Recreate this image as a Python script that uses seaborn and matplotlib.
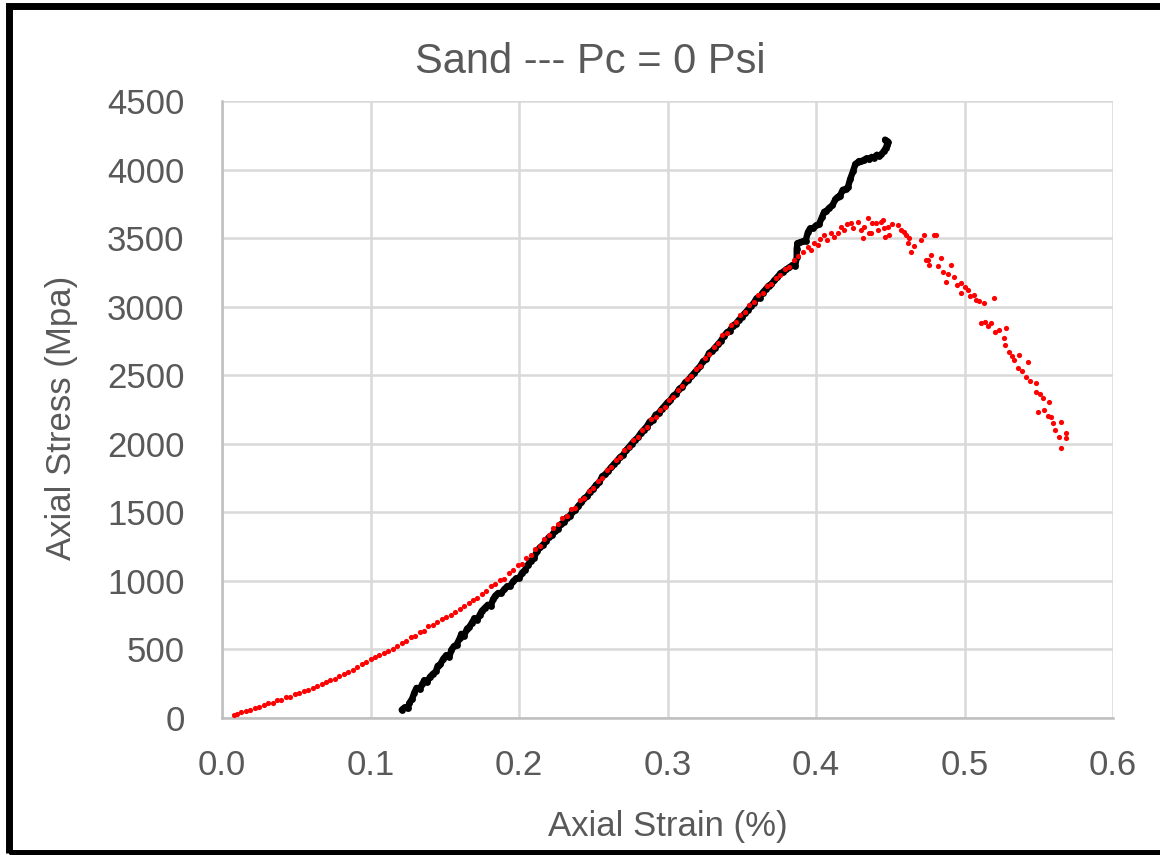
import matplotlib
matplotlib.use("Agg")
import matplotlib.pyplot as plt
import matplotlib.patches as mpatches
import seaborn as sns
import pandas as pd

# Specimen 1 (red dots): axial strain (%) and axial stress
red_strain = [
    0.008, 0.010, 0.013, 0.016, 0.019, 0.022, 0.025, 0.028, 0.031, 0.034,
    0.037, 0.040, 0.043, 0.046, 0.049, 0.052, 0.055, 0.058, 0.061, 0.064,
    0.067, 0.070, 0.073, 0.076, 0.079, 0.082, 0.085, 0.088, 0.091, 0.094,
    0.097, 0.100, 0.103, 0.106, 0.109, 0.112, 0.115, 0.118, 0.121, 0.124,
    0.127, 0.130, 0.133, 0.136, 0.139, 0.142, 0.145, 0.148, 0.151, 0.154,
    0.157, 0.160, 0.163, 0.166, 0.169, 0.172, 0.175, 0.178, 0.181, 0.184,
    0.187, 0.190, 0.193, 0.196, 0.199, 0.202, 0.205, 0.208, 0.211, 0.214,
    0.217, 0.220, 0.223, 0.226, 0.229, 0.232, 0.235, 0.238, 0.241, 0.244,
    0.247, 0.250, 0.253, 0.256, 0.259, 0.262, 0.265, 0.268, 0.271, 0.274,
    0.277, 0.280, 0.283, 0.286, 0.289, 0.292, 0.295, 0.298, 0.301, 0.304,
    0.307, 0.310, 0.313, 0.316, 0.319, 0.322, 0.325, 0.328, 0.331, 0.334,
    0.337, 0.340, 0.343, 0.346, 0.349, 0.352, 0.355, 0.358, 0.361, 0.364,
    0.367, 0.370, 0.373, 0.376, 0.379, 0.382, 0.385, 0.388,
    0.3910, 0.3943, 0.3965, 0.3987, 0.4010, 0.4030, 0.4055, 0.4077, 0.4100, 0.4120,
    0.4145, 0.4167, 0.4190, 0.4210, 0.4235, 0.4250, 0.4280, 0.4302, 0.4313, 0.4325,
    0.4347, 0.4358, 0.4370, 0.4380, 0.4403, 0.4420, 0.4437, 0.4448, 0.4460, 0.4462,
    0.4482, 0.4490, 0.4510, 0.4550, 0.4570, 0.4594, 0.4606, 0.4617, 0.4628, 0.4640,
    0.4660, 0.4707, 0.4729, 0.4740, 0.4752, 0.4763, 0.4774, 0.4796, 0.4808, 0.4820,
    0.4841, 0.4853, 0.4875, 0.4890, 0.4909, 0.4931, 0.4950, 0.4976, 0.4978, 0.5000,
    0.5021, 0.5040, 0.5066, 0.5078, 0.5100, 0.5133, 0.5201, 0.5111, 0.5140, 0.5179,
    0.5160, 0.5203, 0.5230, 0.5268, 0.5280, 0.5270, 0.5302, 0.5320, 0.5336, 0.5370,
    0.5359, 0.5390, 0.5426, 0.5415, 0.5440, 0.5482, 0.5484, 0.5510, 0.5527, 0.5572,
    0.5494, 0.5538, 0.5560, 0.5583, 0.5595, 0.5606, 0.5651, 0.5639, 0.5684, 0.5686,
    0.5652,
]
red_stress = [
    25, 30, 42, 50, 62, 72, 84, 93, 106, 110,
    130, 134, 152, 156, 172, 180, 194, 208, 220, 234,
    250, 260, 277, 288, 304, 318, 334, 348, 374, 396,
    412, 430, 442, 460, 472, 490, 507, 526, 550, 560,
    592, 600, 628, 638, 670, 678, 703, 720, 738, 752,
    775, 795, 815, 836, 861, 877, 908, 926, 962, 978,
    1010, 1016, 1055, 1080, 1115, 1126, 1166, 1190, 1236, 1256,
    1306, 1338, 1384, 1414, 1456, 1472, 1522, 1534, 1588, 1604,
    1658, 1680, 1732, 1754, 1808, 1828, 1880, 1902, 1952, 1978,
    2028, 2050, 2102, 2122, 2178, 2198, 2248, 2268, 2320, 2342,
    2392, 2418, 2470, 2492, 2543, 2566, 2622, 2652, 2708, 2734,
    2792, 2810, 2868, 2888, 2938, 2962, 3012, 3032, 3082, 3102,
    3148, 3165, 3208, 3232, 3278, 3292, 3342, 3372,
    3400, 3438, 3413, 3462, 3450, 3490, 3523, 3486, 3540, 3510,
    3535, 3583, 3560, 3600, 3608, 3570, 3620, 3559, 3499, 3583,
    3644, 3535, 3535, 3610, 3608, 3560, 3620, 3632, 3572, 3510,
    3583, 3520, 3600, 3596, 3560, 3547, 3523, 3462, 3499, 3401,
    3440, 3486, 3523, 3340, 3340, 3304, 3377, 3523, 3523, 3300,
    3353, 3255, 3182, 3240, 3304, 3219, 3160, 3170, 3097, 3140,
    3122, 3080, 3085, 3049, 3040, 3024, 3061, 2879, 2890, 2879,
    2860, 2817, 2830, 2769, 2842, 2720, 2672, 2640, 2611, 2647,
    2550, 2530, 2599, 2489, 2460, 2441, 2380, 2360, 2332, 2307,
    2234, 2246, 2200, 2197, 2149, 2101, 2161, 2052, 2076, 2040,
    1967,
]

# Specimen 2 (black trace): axial strain (%) and axial stress
black_strain = [
    0.1210, 0.1230, 0.1250, 0.1262, 0.1280, 0.1295, 0.1310, 0.1330, 0.1350, 0.1362,
    0.1380, 0.1400, 0.1420, 0.1440, 0.1452, 0.1470, 0.1490, 0.1510, 0.1530, 0.1545,
    0.1560, 0.1580, 0.1600, 0.1612, 0.1630, 0.1650, 0.1665, 0.1680, 0.1700, 0.1720,
    0.1735, 0.1750, 0.1770, 0.1790, 0.1810, 0.1825, 0.1840, 0.1860, 0.1880, 0.1900,
    0.1920, 0.1940, 0.1960, 0.1980, 0.2000, 0.2020, 0.2040, 0.2060, 0.2080, 0.2100,
    0.2120, 0.2140, 0.2160, 0.2180, 0.2200, 0.2220, 0.2240, 0.2260, 0.2280, 0.2300,
    0.2320, 0.2340, 0.2360, 0.2380, 0.2400, 0.2420, 0.2440, 0.2460, 0.2480, 0.2500,
    0.2520, 0.2540, 0.2560, 0.2580, 0.2600, 0.2620, 0.2640, 0.2660, 0.2680, 0.2700,
    0.2720, 0.2740, 0.2760, 0.2780, 0.2800, 0.2820, 0.2840, 0.2860, 0.2880, 0.2900,
    0.2920, 0.2940, 0.2960, 0.2980, 0.3000, 0.3020, 0.3040, 0.3060, 0.3080, 0.3100,
    0.3120, 0.3140, 0.3160, 0.3180, 0.3200, 0.3220, 0.3240, 0.3260, 0.3280, 0.3300,
    0.3320, 0.3340, 0.3360, 0.3380, 0.3400, 0.3420, 0.3440, 0.3460, 0.3480, 0.3500,
    0.3520, 0.3540, 0.3560, 0.3580, 0.3600, 0.3620, 0.3640, 0.3660, 0.3680, 0.3700,
    0.3720, 0.3740, 0.3760, 0.3780, 0.3800, 0.3820, 0.3840, 0.3860, 0.3870, 0.3870,
    0.3875, 0.3890, 0.3910, 0.3930, 0.3945, 0.3960, 0.3980, 0.4000, 0.4020, 0.4040,
    0.4055, 0.4070, 0.4090, 0.4110, 0.4130, 0.4145, 0.4160, 0.4180, 0.4200, 0.4215,
    0.4230, 0.4250, 0.4265, 0.4280, 0.4290, 0.4300, 0.4320, 0.4340, 0.4360, 0.4375,
    0.4390, 0.4410, 0.4425, 0.4440, 0.4455, 0.4470, 0.4478, 0.4482, 0.4475, 0.4465,
]
black_stress = [
    60, 78, 70, 110, 140, 185, 220, 210, 250, 275,
    262, 300, 322, 340, 380, 392, 432, 458, 446, 498,
    522, 536, 580, 614, 600, 652, 664, 690, 728, 716,
    752, 782, 804, 826, 816, 866, 892, 912, 910, 938,
    960, 962, 996, 1018, 1020, 1058, 1080, 1118, 1148, 1166,
    1216, 1244, 1262, 1288, 1318, 1332, 1362, 1378, 1412, 1428,
    1462, 1474, 1502, 1518, 1548, 1572, 1602, 1618, 1652, 1672,
    1702, 1718, 1762, 1776, 1802, 1828, 1852, 1876, 1902, 1918,
    1952, 1976, 2002, 2026, 2046, 2078, 2102, 2126, 2162, 2172,
    2212, 2222, 2252, 2276, 2302, 2318, 2352, 2366, 2402, 2416,
    2447, 2466, 2492, 2516, 2542, 2566, 2602, 2616, 2662, 2676,
    2702, 2726, 2752, 2786, 2812, 2826, 2862, 2876, 2902, 2926,
    2952, 2976, 3002, 3026, 3062, 3066, 3102, 3126, 3152, 3166,
    3192, 3216, 3242, 3256, 3272, 3286, 3302, 3300, 3360, 3420,
    3462, 3468, 3476, 3480, 3542, 3570, 3572, 3592, 3600, 3652,
    3692, 3698, 3722, 3738, 3782, 3800, 3806, 3852, 3858, 3872,
    3930, 3990, 4040, 4052, 4062, 4060, 4068, 4082, 4074, 4092,
    4086, 4108, 4098, 4112, 4132, 4158, 4180, 4198, 4210, 4218,
]

x_ticks = [0.0, 0.1, 0.2, 0.3, 0.4, 0.5, 0.6]
y_ticks = [0, 500, 1000, 1500, 2000, 2500, 3000, 3500, 4000, 4500]

red_df = pd.DataFrame({"strain": red_strain, "stress": red_stress})
black_df = pd.DataFrame({"strain": black_strain, "stress": black_stress})

sns.set_style("white")
plt.rcParams["font.family"] = ["Liberation Sans", "DejaVu Sans"]

TEXT = "#595959"
GRID = "#d9d9d9"

fig = plt.figure(figsize=(11.6, 8.55), dpi=100)
ax = fig.add_axes([0.1914, 0.1602, 0.9595 - 0.1914, 0.8819 - 0.1602])

sns.lineplot(data=black_df, x="strain", y="stress", sort=False, estimator=None,
             color="black", linewidth=4.6, ax=ax, zorder=3)
sns.scatterplot(data=black_df, x="strain", y="stress", color="black", s=24,
                linewidth=0, ax=ax, zorder=3)
sns.scatterplot(data=red_df, x="strain", y="stress", color="#ff0000", s=14,
                linewidth=0, ax=ax, zorder=4)

ax.set_xlim(0, 0.6)
ax.set_ylim(0, 4500)
ax.set_xticks(x_ticks)
ax.set_yticks(y_ticks)
ax.set_xticklabels([f"{v:.1f}" for v in x_ticks])
ax.set_yticklabels([str(v) for v in y_ticks])
ax.grid(True, color=GRID, linewidth=1.8)
ax.set_axisbelow(True)
for side in ["top", "right"]:
    ax.spines[side].set_visible(False)
for side in ["left", "bottom"]:
    ax.spines[side].set_color("#bfbfbf")
    ax.spines[side].set_linewidth(1.8)
ax.tick_params(axis="both", length=0, labelsize=25, labelcolor=TEXT)
ax.tick_params(axis="x", pad=22)
ax.tick_params(axis="y", pad=27)

ax.set_xlabel("Axial Strain (%)", fontsize=25, color=TEXT)
ax.set_ylabel("Axial Stress (Mpa)", fontsize=25, color=TEXT)
ax.xaxis.set_label_coords(0.5, -0.149)
ax.yaxis.set_label_coords(-0.1616, 0.486)
fig.text(0.509, 0.9275, "Sand --- Pc = 0 Psi", fontsize=30, color=TEXT,
         ha="center", va="center")

# black frame around the chart area
frame = mpatches.Rectangle((9 / 1160, 2 / 855), 1.2, 847 / 855,
                           transform=fig.transFigure, fill=False,
                           edgecolor="black", linewidth=5, clip_on=False)
fig.patches.append(frame)

fig.savefig("out.png", dpi=100)
